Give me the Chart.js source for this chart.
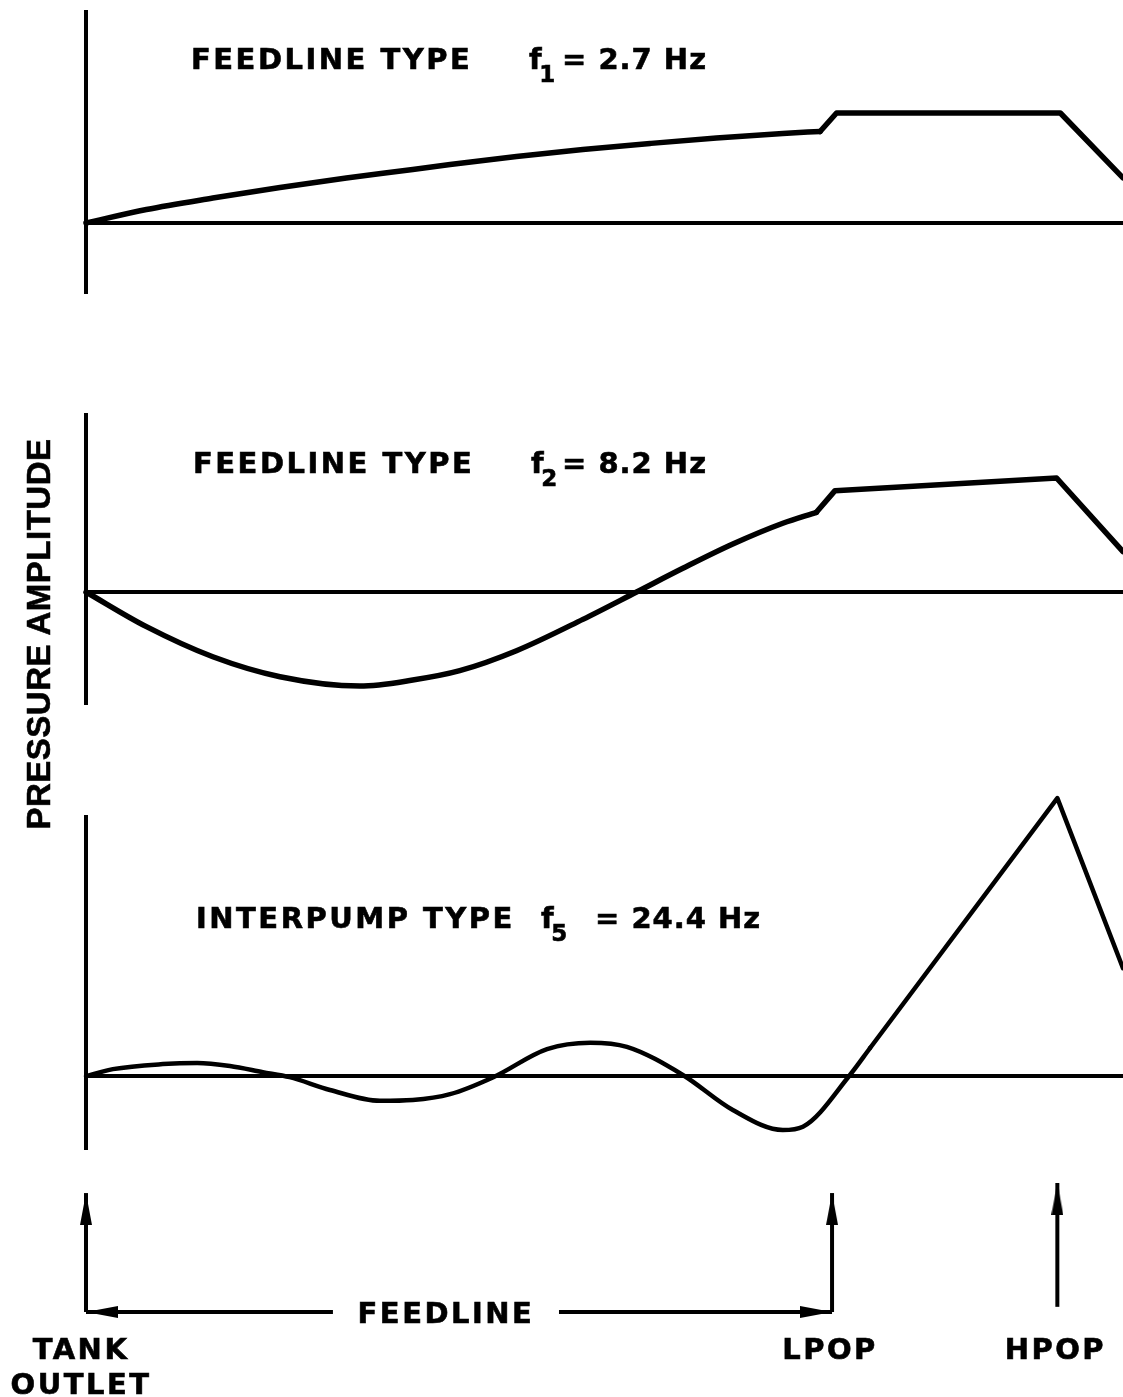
<!DOCTYPE html>
<html>
<head>
<meta charset="utf-8">
<script src="https://cdn.jsdelivr.net/npm/chart.js@4/dist/chart.umd.min.js"></script>
<style>
  body { margin: 0; background: #fff; }
  #fig { position: relative; width: 1123px; height: 1397px; background: #fff; overflow: hidden; }
  canvas { position: absolute; left: 0; }
  .t { position: absolute; font: bold 29px/29px "DejaVu Sans"; letter-spacing: 2.5px; color: #000;
       white-space: nowrap; -webkit-text-stroke: 0.6px #000; }
  .t.eq { letter-spacing: 1px; }
  .sub { position: relative; top: 13px; font-size: 23px; letter-spacing: 0; margin-left: -5px; }
  #ylab { position: absolute; left: -171px; top: 614px; width: 420px; height: 40px; line-height: 40px;
          text-align: center; font: bold 33px/40px "Liberation Sans"; letter-spacing: 0.5px; color: #000;
          transform: rotate(-90deg); white-space: nowrap; -webkit-text-stroke: 0.6px #000; }
</style>
</head>
<body>
<div id="fig">
  <canvas id="p1" width="1123" height="284" style="top:10px"></canvas>
  <canvas id="p2" width="1123" height="292" style="top:413px"></canvas>
  <canvas id="p3" width="1123" height="360" style="top:790px"></canvas>
  <canvas id="loc" width="1123" height="227" style="top:1170px"></canvas>

  <div class="t" style="left:191px; top:45px">FEEDLINE TYPE</div>
  <div class="t" style="left:529px; top:45px">f<span class="sub">1</span></div>
  <div class="t eq" style="left:562px; top:45px">= 2.7 Hz</div>

  <div class="t" style="left:193px; top:449px">FEEDLINE TYPE</div>
  <div class="t" style="left:531px; top:449px">f<span class="sub">2</span></div>
  <div class="t eq" style="left:562px; top:449px">= 8.2 Hz</div>

  <div class="t" style="left:196px; top:904px">INTERPUMP TYPE</div>
  <div class="t" style="left:541px; top:904px">f<span class="sub">5</span></div>
  <div class="t eq" style="left:595px; top:904px">= 24.4 Hz</div>

  <div id="ylab">PRESSURE AMPLITUDE</div>
</div>
<script>
// position along the line: 0 = tank outlet, 100 = LPOP
// amplitude normalised so the value at HPOP is 1

// f1 = 2.7 Hz, feedline type
const f1WavePos = [0, 8.1, 17.0, 26.0, 34.9, 43.8, 48.8, 57.7, 66.6, 75.6, 84.5, 93.4, 98.4];
const f1WaveAmp = [0, 0.123, 0.227, 0.323, 0.409, 0.486, 0.532, 0.605, 0.668, 0.723, 0.773, 0.814, 0.832];
const f1PumpPos = [98.4, 100.6, 130.6, 139.0];
const f1PumpAmp = [0.832, 1.0, 1.0, 0.41];

// f2 = 8.2 Hz, feedline type
const f2WavePos = [0, 8.1, 17.0, 26.0, 36.7, 43.8, 50.1, 57.7, 66.6, 73.8, 80.0, 86.7, 93.4, 97.9];
const f2WaveAmp = [0, -0.304, -0.568, -0.743, -0.825, -0.772, -0.690, -0.515, -0.240, 0, 0.208, 0.421, 0.603, 0.699];
const f2PumpPos = [97.9, 100.4, 130.1, 139.0];
const f2PumpAmp = [0.699, 0.889, 1.0, 0.354];

// f5 = 24.4 Hz, interpump type
const f5WavePos = [0, 3.6, 10.3, 14.9, 19.3, 23.7, 27.3, 32.7, 39.4, 43.8, 48.8, 54.6, 61.8, 67.6, 72.5, 80.0, 86.7, 93.4, 96.1, 102.4, 105.1];
const f5WaveAmp = [0, 0.025, 0.043, 0.047, 0.036, 0.014, -0.004, -0.050, -0.089, -0.086, -0.065, -0.004, 0.097, 0.120, 0.105, 0.004, -0.122, -0.194, -0.182, 0.004, 0.101];
const f5PumpPos = [105.1, 130.2, 139.0];
const f5PumpAmp = [0.101, 1.0, 0.388];

// stations along the line
const locationNames = ['TANK\nOUTLET', 'LPOP', 'HPOP'];
const locationPos = [0, 100, 130.2];
const arrowFoot = [0, 0, 0.04];
const arrowTip = [0.922, 0.922, 1.0];
const feedlineGap = [33.1, 63.4];

const xMax = 139;

function pts(xs, ys) {
  return xs.map((x, i) => ({ x: x, y: ys[i] }));
}

function drawPanel(id, wavePos, waveAmp, pumpPos, pumpAmp, yMin, yMax, lw, padTop) {
  const line = {
    showLine: true,
    borderColor: '#000',
    borderWidth: lw,
    borderCapStyle: 'round',
    borderJoinStyle: 'round',
    pointRadius: 0,
    clip: false
  };
  new Chart(document.getElementById(id), {
    type: 'scatter',
    data: {
      datasets: [
        Object.assign({ data: pts(wavePos, waveAmp), cubicInterpolationMode: 'monotone' }, line),
        Object.assign({ data: pts(pumpPos, pumpAmp), tension: 0 }, line)
      ]
    },
    options: {
      responsive: false,
      animation: false,
      devicePixelRatio: 1,
      events: [],
      layout: { autoPadding: false, padding: { left: 86, right: 0, top: padTop, bottom: 0 } },
      plugins: { legend: { display: false }, tooltip: { enabled: false } },
      scales: {
        x: { type: 'linear', min: 0, max: xMax, display: false },
        y: {
          type: 'linear',
          min: yMin,
          max: yMax,
          afterFit: s => { s.width = 0; },
          afterBuildTicks: s => { s.ticks = [{ value: 0 }]; },
          ticks: { display: false },
          grid: { color: '#000', lineWidth: 4, drawTicks: false },
          border: { display: true, color: '#000', width: 4 }
        }
      }
    }
  });
}

drawPanel('p1', f1WavePos, f1WaveAmp, f1PumpPos, f1PumpAmp, -0.645, 1.936, 5.5, 0);
drawPanel('p2', f2WavePos, f2WaveAmp, f2PumpPos, f2PumpAmp, -0.991, 1.570, 5.5, 0);
drawPanel('p3', f5WavePos, f5WaveAmp, f5PumpPos, f5PumpAmp, -0.266, 0.932, 4.5, 27);

// narrow arrow head, tip at the centre of the image so it sits on the point
const arrowHead = document.createElement('canvas');
arrowHead.width = 12;
arrowHead.height = 64;
(function () {
  const c = arrowHead.getContext('2d');
  c.fillStyle = '#000';
  c.beginPath();
  c.moveTo(6, 32);
  c.lineTo(12, 64);
  c.lineTo(0, 64);
  c.closePath();
  c.fill();
})();

function arrow(x0, y0, x1, y1, rot) {
  return {
    data: [{ x: x0, y: y0 }, { x: x1, y: y1 }],
    showLine: true,
    borderColor: '#000',
    borderWidth: 4,
    pointRadius: [0, 6],
    pointStyle: arrowHead,
    pointRotation: rot,
    clip: false
  };
}

const locDatasets = locationPos.map((p, i) => arrow(p, arrowFoot[i], p, arrowTip[i], 0));
locDatasets.push(arrow(feedlineGap[0], 0, 0, 0, -90));
locDatasets.push(arrow(feedlineGap[1], 0, 100, 0, 90));

const locLabels = {
  id: 'locLabels',
  afterDraw(chart) {
    const ctx = chart.ctx;
    const xs = chart.scales.x;
    const ys = chart.scales.y;
    ctx.save();
    ctx.fillStyle = '#000';
    ctx.strokeStyle = '#000';
    ctx.lineWidth = 0.6;
    ctx.font = 'bold 29px "DejaVu Sans"';
    ctx.letterSpacing = '2.5px';
    ctx.textAlign = 'center';
    ctx.textBaseline = 'alphabetic';
    const put = (txt, x, y) => { ctx.fillText(txt, x, y); ctx.strokeText(txt, x, y); };
    locationNames.forEach((name, i) => {
      name.split('\n').forEach((row, j) => {
        put(row, xs.getPixelForValue(locationPos[i]) - (i === 0 ? 5 : 2), ys.bottom + 47 + j * 35);
      });
    });
    put('FEEDLINE', xs.getPixelForValue((feedlineGap[0] + feedlineGap[1]) / 2), ys.getPixelForValue(0) + 11);
    ctx.restore();
  }
};

new Chart(document.getElementById('loc'), {
  type: 'scatter',
  data: { datasets: locDatasets },
  options: {
    responsive: false,
    animation: false,
    devicePixelRatio: 1,
    events: [],
    layout: { autoPadding: false, padding: { left: 86, right: 0, top: 13, bottom: 85 } },
    plugins: { legend: { display: false }, tooltip: { enabled: false } },
    scales: {
      x: { type: 'linear', min: 0, max: xMax, display: false },
      y: { type: 'linear', min: 0, max: 1, display: false }
    }
  },
  plugins: [locLabels]
});
</script>
</body>
</html>
